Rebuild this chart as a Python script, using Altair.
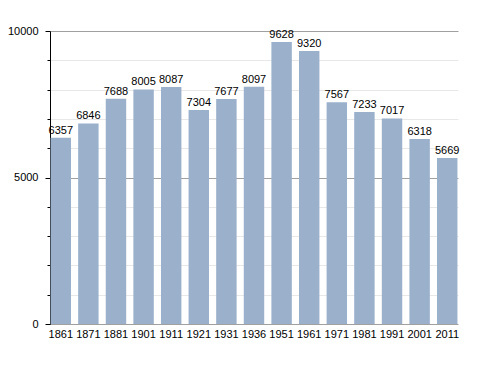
import altair as alt
import pandas as pd

years = ["1861", "1871", "1881", "1901", "1911", "1921", "1931", "1936",
         "1951", "1961", "1971", "1981", "1991", "2001", "2011"]
population = [6357, 6846, 7688, 8005, 8087, 7304, 7677, 8097,
              9628, 9320, 7567, 7233, 7017, 6318, 5669]

df = pd.DataFrame({"year": years, "pop": population})

FONT = "Liberation Sans"

x = alt.X("year:N", sort=years, title=None,
          scale=alt.Scale(paddingInner=0.26, paddingOuter=0.02),
          axis=alt.Axis(labelAngle=0, domain=False, ticks=False, labelPadding=4,
                        labelFontSize=11, labelColor="#000", labelFont=FONT))

y = alt.Y("pop:Q", title=None,
          scale=alt.Scale(domain=[0, 10000], nice=False),
          axis=alt.Axis(values=list(range(0, 10001, 1000)),
                        labelExpr="datum.value % 5000 === 0 ? datum.label : ''",
                        format="d",
                        labelOverlap=False,
                        domain=True, domainColor="#000",
                        tickColor="#000",
                        tickSize={"condition": {"test": "datum.value % 5000 === 0", "value": 5}, "value": 3},
                        grid=True,
                        gridColor={"condition": {"test": "datum.value % 5000 === 0", "value": "#a0a0a0"}, "value": "#e8e8e8"},
                        labelPadding=7, labelFontSize=11, labelColor="#000", labelFont=FONT))

bars = alt.Chart(df).mark_bar(color="#9ab0cb").encode(x=x, y=y)
text = alt.Chart(df).mark_text(baseline="bottom", dy=-2, fontSize=11, font=FONT, color="#000").encode(
    x=x, y=y, text=alt.Text("pop:Q", format="d"))

chart = (bars + text).properties(
    width=408, height=293,
    autosize=alt.AutoSizeParams(type="none"),
    padding={"left": 42, "top": 23, "right": 22, "bottom": 40},
).configure_view(stroke=None)

chart.save("out.html", embed_options={"renderer": "svg", "actions": False})
